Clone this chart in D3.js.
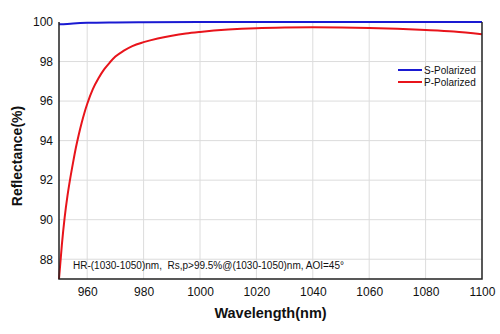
<!DOCTYPE html>
<html>
<head>
<meta charset="utf-8">
<script src="https://cdn.jsdelivr.net/npm/d3@7"></script>
<style>
  body { margin: 0; background: #fff; }
  text { font-family: "Liberation Sans", Arial, sans-serif; }
</style>
</head>
<body>
<div class="chart"></div>
<script>
// wavelength (nm) and reflectance (%)
let sWave = [950, 955, 960, 970, 980, 1000, 1050, 1100];
let sRefl = [99.88, 99.93, 99.96, 99.98, 99.99, 100, 100, 100];

let pWave = [950, 951, 952, 953, 954, 955, 956, 957, 958, 959, 960, 962, 964, 966, 968, 970, 973, 976, 980, 985, 990, 995, 1000, 1010, 1020, 1030, 1040, 1050, 1060, 1070, 1080, 1090, 1100];
let pRefl = [87.0, 88.7, 90.1, 91.2, 92.1, 92.9, 93.65, 94.3, 94.88, 95.4, 95.85, 96.6, 97.15, 97.6, 97.95, 98.25, 98.55, 98.78, 98.98, 99.17, 99.31, 99.42, 99.5, 99.62, 99.69, 99.72, 99.73, 99.72, 99.7, 99.66, 99.6, 99.52, 99.38];

let xTicks = [960, 980, 1000, 1020, 1040, 1060, 1080, 1100];
let yTicks = [88, 90, 92, 94, 96, 98, 100];

let margin = {top: 22, right: 18, bottom: 55, left: 59};
let width = 500 - margin.left - margin.right;
let height = 334 - margin.top - margin.bottom;

let svg = d3.select('.chart')
  .append('svg')
    .attr('width', 500)
    .attr('height', 334)
  .append('g')
    .attr('transform', `translate(${margin.left}, ${margin.top})`);

let xScale = d3.scaleLinear()
  .domain([950, 1100])
  .range([0, width]);

let yScale = d3.scaleLinear()
  .domain([87, 100])
  .range([height, 0]);

// grid
svg.append('g')
  .selectAll('line')
  .data(xTicks.slice(0, -1))
  .join('line')
    .attr('x1', d => xScale(d))
    .attr('x2', d => xScale(d))
    .attr('y1', 0)
    .attr('y2', height)
    .style('stroke', '#dcdcdc')
    .style('stroke-width', 1);

svg.append('g')
  .selectAll('line')
  .data(yTicks.slice(0, -1))
  .join('line')
    .attr('x1', 0)
    .attr('x2', width)
    .attr('y1', d => yScale(d))
    .attr('y2', d => yScale(d))
    .style('stroke', '#dcdcdc')
    .style('stroke-width', 1);

// axes (labels only, frame drawn below)
let xAxis = d3.axisBottom(xScale)
  .tickValues(xTicks)
  .tickFormat(d3.format('d'))
  .tickSize(0)
  .tickPadding(8);
let gx = svg.append('g')
  .attr('transform', `translate(0, ${height})`)
  .call(xAxis);

let yAxis = d3.axisLeft(yScale)
  .tickValues(yTicks)
  .tickSize(0)
  .tickPadding(6);
let gy = svg.append('g').call(yAxis);

[gx, gy].forEach(g => {
  g.select('.domain').remove();
  g.selectAll('text')
    .style('font-family', '"Liberation Sans", Arial, sans-serif')
    .style('font-size', '12px')
    .style('fill', '#111');
});

// annotation
svg.append('text')
  .attr('x', 14)
  .attr('y', height - 10)
  .style('font-size', '10px')
  .style('fill', '#111')
  .attr('xml:space', 'preserve')
  .text('HR-(1030-1050)nm,  Rs,p>99.5%@(1030-1050)nm, AOI=45°');

// curves
let line = d3.line()
  .x(d => xScale(d[0]))
  .y(d => yScale(d[1]))
  .curve(d3.curveMonotoneX);

svg.append('path')
  .datum(pWave.map((w, i) => [w, pRefl[i]]))
  .attr('d', line)
  .style('fill', 'none')
  .style('stroke', '#e8141b')
  .style('stroke-width', 2);

svg.append('path')
  .datum(sWave.map((w, i) => [w, sRefl[i]]))
  .attr('d', line)
  .style('fill', 'none')
  .style('stroke', '#1a1ad2')
  .style('stroke-width', 2);

// frame
svg.append('path')
  .attr('d', `M0,0 V${height} H${width} V0`)
  .style('fill', 'none')
  .style('stroke', '#222')
  .style('stroke-width', 1.5);

// legend
let legend = svg.append('g')
  .attr('transform', `translate(${width - 84}, 48)`);
let items = [['S-Polarized', '#1a1ad2'], ['P-Polarized', '#e8141b']];
items.forEach((it, i) => {
  legend.append('line')
    .attr('x1', 0).attr('x2', 24)
    .attr('y1', i * 12).attr('y2', i * 12)
    .style('stroke', it[1])
    .style('stroke-width', 2);
  legend.append('text')
    .attr('x', 26)
    .attr('y', i * 12 + 3.5)
    .style('font-size', '10px')
    .style('fill', '#111')
    .text(it[0]);
});

// axis titles
svg.append('text')
  .attr('x', width / 2)
  .attr('y', height + 39)
  .attr('text-anchor', 'middle')
  .style('font-size', '14.5px')
  .style('font-weight', 'bold')
  .style('fill', '#111')
  .text('Wavelength(nm)');

svg.append('text')
  .attr('transform', `translate(${22 - margin.left}, ${156 - margin.top}) rotate(-90)`)
  .attr('text-anchor', 'middle')
  .style('font-size', '14px')
  .style('font-weight', 'bold')
  .style('fill', '#111')
  .text('Reflectance(%)');
</script>
</body>
</html>
